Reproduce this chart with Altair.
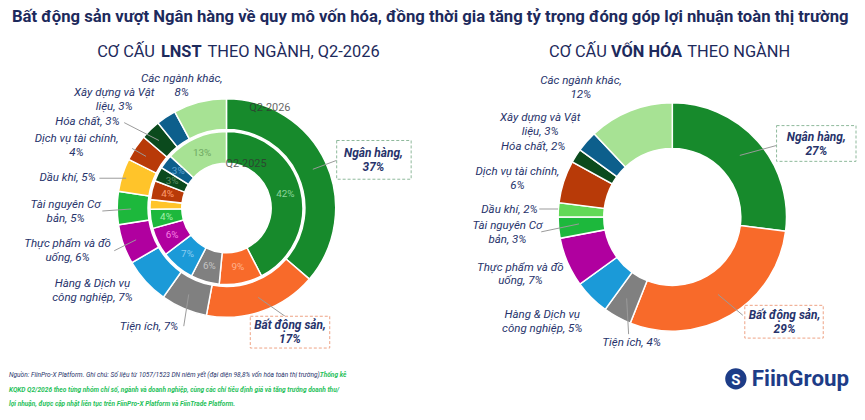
import altair as alt
import pandas as pd

# ---------------- data ----------------
sectors = ["Ngân hàng", "Bất động sản", "Tiện ích", "Hàng & Dịch vụ công nghiệp",
           "Thực phẩm và đồ uống", "Tài nguyên Cơ bản", "Dầu khí", "Dịch vụ tài chính",
           "Hóa chất", "Xây dựng và Vật liệu", "Các ngành khác"]
lnst_q2_2026 = [37, 17, 7, 7, 6, 5, 5, 4, 3, 3, 8]
lnst_q2_2025 = [42, 9, 6, 7, 6, 4, 2, 4, 3, 3, 13]
von_hoa = [27, 29, 4, 5, 7, 3, 2, 6, 2, 3, 12]

# label text (line breaks as in the picture)
label_lines = ["Ngân hàng,\n", "Bất động sản,\n", "Tiện ích, ", "Hàng & Dịch vụ\ncông nghiệp, ",
               "Thực phẩm và đồ\nuống, ", "Tài nguyên Cơ\nbản, ", "Dầu khí, ", "Dịch vụ tài chính,\n",
               "Hóa chất, ", "Xây dựng và Vật\nliệu, ", "Các ngành khác,\n"]
highlight = ["Ngân hàng", "Bất động sản"]

title = "Bất động sản vượt Ngân hàng về quy mô vốn hóa, đồng thời gia tăng tỷ trọng đóng góp lợi nhuận toàn thị trường"
footer1a = "Nguồn: FiinPro-X Platform. Ghi chú: Số liệu từ 1057/1523 DN niêm yết (đại diện 98,8% vốn hóa toàn thị trường)."
footer1b = "Thống kê"
footer2 = "KQKD Q2/2026 theo từng nhóm chỉ số, ngành và doanh nghiệp, cùng các chỉ tiêu định giá và tăng trưởng doanh thu/"
footer3 = "lợi nhuận, được cập nhật liên tục trên FiinPro-X Platform và FiinTrade Platform."

# ---------------- style ----------------
NAVY = "#27336b"
TITLE_C = "#1d2a5c"
GREEN_TXT = "#1fbf5a"
colors_left = ["#178a2c", "#f86a2a", "#808080", "#1b9ad8", "#b0009f", "#1db83c",
               "#ffc42a", "#b83a08", "#0b4a1d", "#0d5f8c", "#a7e294"]
colors_right = ["#178a2c", "#f86a2a", "#808080", "#1b9ad8", "#b0009f", "#1db83c",
                "#62d957", "#b83a08", "#0b4a1d", "#0d5f8c", "#a7e294"]
inner_txt_colors = ["#8bd49b", "#ffb28c", "#c4c4c4", "#8ccdf0", "#f67fe3", "#a4f0ab",
                    "#ffe6a0", "#ff9f70", "#5f8e66", "#5ea4d2", "#6fa862"]
FONT = "Roboto"
FOOT_SIZE = 6.6
LH = 14  # label line height

# layout (reference pixel coordinates)
LC = (228, 206)   # left donut centre
RC = (677, 215)   # right donut centre
label_pos_left = [(376, 158), (292, 331), (150, 326), (93, 290), (68, 249), (66, 210),
                  (68, 176), (77, 144), (88, 119), (115, 97), (183, 83)]
label_pos_right = [(822, 142), (790, 321), (636, 342), (546, 321), (524, 273), (511, 231),
                   (513, 208), (521, 177), (537, 145), (544, 122), (585, 85)]
boxes = [(339, 138, 414, 177, "#8db89a"), (252, 315, 332, 347, "#eea284"),
         (782, 123, 862, 159, "#8db89a"), (750, 304, 829, 337, "#eea284")]
leaders = [(125, 120, 160, 138), (133, 146, 147, 154), (100, 176, 127, 176), (103, 209, 132, 207),
           (115, 249, 137, 238), (185, 325, 190, 293), (315, 167, 339, 158), (260, 296, 287, 315),
           (543, 207, 562, 207), (545, 230, 583, 222), (633, 333, 631, 297), (745, 153, 782, 143),
           (723, 293, 748, 314)]

xs = alt.Scale(domain=[8, 857], range=[0, 849], nice=False, zero=False)
ys = alt.Scale(domain=[8, 412], range=[0, 404], nice=False, zero=False)


def ring(values, colors, c, r_in, r_out):
    df = pd.DataFrame({"sector": sectors, "v": values, "idx": range(len(values)), "fill": colors})
    return alt.Chart(df).mark_arc(innerRadius=r_in, outerRadius=r_out, stroke="white",
                                  strokeWidth=1.5).encode(
        x=alt.value(c[0] - 8), y=alt.value(c[1] - 8),
        theta=alt.Theta("v:Q", stack=True),
        order=alt.Order("idx:Q"),
        color=alt.Color("fill:N", scale=None),
    )


def labels(values, pos):
    rows = []
    for s, v, lab, (x, y) in zip(sectors, values, label_lines, pos):
        t = f"{lab}{v}%"
        n = t.count("\n") + 1
        rows.append({"x": x, "y": y - (n - 1) * LH / 2, "t": t, "hl": s in highlight})
    return pd.DataFrame(rows)


def text_layer(df, font=FONT, **kw):
    return alt.Chart(df).mark_text(font=font, lineBreak="\n", **kw).encode(
        x=alt.X("x:Q", scale=xs, axis=None), y=alt.Y("y:Q", scale=ys, axis=None), text="t:N")


layers = []

# donuts
layers.append(ring(lnst_q2_2026, colors_left, LC, 79, 110))
layers.append(ring(lnst_q2_2025, colors_left, LC, 45, 77))
layers.append(ring(von_hoa, colors_right, RC, 69, 115))

# inner ring percentage labels
inner_df = pd.DataFrame({"v": lnst_q2_2025, "idx": range(len(sectors)),
                         "t": [f"{v}%" if s != "Dầu khí" else "" for s, v in zip(sectors, lnst_q2_2025)],
                         "c": inner_txt_colors})
layers.append(alt.Chart(inner_df).mark_text(radius=61, font=FONT, fontSize=10).encode(
    x=alt.value(LC[0] - 8), y=alt.value(LC[1] - 8),
    theta=alt.Theta("v:Q", stack=True), order=alt.Order("idx:Q"),
    text="t:N", color=alt.Color("c:N", scale=None)))

# ring names
layers.append(text_layer(pd.DataFrame({"x": [251, 227], "y": [105, 162], "t": ["Q2-2026", "Q2-2025"]}),
                         fontSize=11, align="left", baseline="middle", color="#333333", opacity=0.75))

# leader lines
ld = pd.DataFrame(leaders, columns=["x", "y", "x2", "y2"])
layers.append(alt.Chart(ld).mark_rule(color="#9a9a9a", strokeWidth=1).encode(
    x=alt.X("x:Q", scale=xs, axis=None), y=alt.Y("y:Q", scale=ys, axis=None),
    x2="x2:Q", y2="y2:Q"))

# highlight boxes
bx = pd.DataFrame(boxes, columns=["x", "y", "x2", "y2", "c"])
layers.append(alt.Chart(bx).mark_rect(fill="white", strokeWidth=1, strokeDash=[3, 2]).encode(
    x=alt.X("x:Q", scale=xs, axis=None), y=alt.Y("y:Q", scale=ys, axis=None),
    x2="x2:Q", y2="y2:Q", stroke=alt.Stroke("c:N", scale=None)))

# category labels
lab_df = pd.concat([labels(lnst_q2_2026, label_pos_left), labels(von_hoa, label_pos_right)])
layers.append(text_layer(lab_df[~lab_df.hl], fontSize=11.6, fontStyle="italic", align="center",
                         baseline="middle", lineHeight=LH, color=NAVY))
layers.append(text_layer(lab_df[lab_df.hl], fontSize=12, fontStyle="italic", fontWeight="bold",
                         align="center", baseline="middle", lineHeight=LH, color=NAVY))

# titles
layers.append(text_layer(pd.DataFrame({"x": [12], "y": [14], "t": [title]}), fontSize=16.8,
                         fontWeight="bold", align="left", baseline="middle", color=TITLE_C))
sub_plain_r = pd.DataFrame({"x": [156, 611], "y": [49, 49], "t": ["CƠ CẤU", "CƠ CẤU"]})
sub_bold = pd.DataFrame({"x": [182.5, 651], "y": [49, 49], "t": ["LNST", "VỐN HÓA"]})
sub_plain_l = pd.DataFrame({"x": [209, 692], "y": [49, 49], "t": ["THEO NGÀNH, Q2-2026", "THEO NGÀNH"]})
layers.append(text_layer(sub_plain_r, fontSize=16.5, align="right", baseline="middle", color=TITLE_C))
layers.append(text_layer(sub_bold, fontSize=16.5, fontWeight="bold", align="center", baseline="middle",
                         color=TITLE_C))
layers.append(text_layer(sub_plain_l, fontSize=16.5, align="left", baseline="middle", color=TITLE_C))

# footer
layers.append(text_layer(pd.DataFrame({"x": [9], "y": [374], "t": [footer1a]}),
                         fontSize=FOOT_SIZE, fontStyle="italic", align="left", baseline="middle",
                         color=NAVY))
layers.append(text_layer(pd.DataFrame({"x": [322], "y": [374], "t": [footer1b]}),
                         fontSize=FOOT_SIZE, fontStyle="italic", fontWeight="bold", align="left",
                         baseline="middle", color=GREEN_TXT))
layers.append(text_layer(pd.DataFrame({"x": [9, 9], "y": [389, 403], "t": [footer2, footer3]}),
                         fontSize=FOOT_SIZE, fontStyle="italic", fontWeight="bold",
                         align="left", baseline="middle", color=GREEN_TXT))

# logo
layers.append(alt.Chart(pd.DataFrame({"x": [741], "y": [378]})).mark_point(
    filled=True, size=460, shape="circle", color="#1d3c87", opacity=1).encode(
    x=alt.X("x:Q", scale=xs, axis=None), y=alt.Y("y:Q", scale=ys, axis=None)))
layers.append(text_layer(pd.DataFrame({"x": [741], "y": [379], "t": ["S"]}), fontSize=15,
                         fontWeight="bold", align="center", baseline="middle", color="white"))
layers.append(text_layer(pd.DataFrame({"x": [757], "y": [378], "t": ["FiinGroup"]}), fontSize=22.5,
                         fontWeight="bold", align="left", baseline="middle", color="#1d3c87"))

chart = alt.layer(*layers).resolve_scale(theta="independent").properties(
    width=849, height=404, padding=0).configure_view(stroke=None)

chart.save("out.html", embed_options={"renderer": "svg", "actions": False})
